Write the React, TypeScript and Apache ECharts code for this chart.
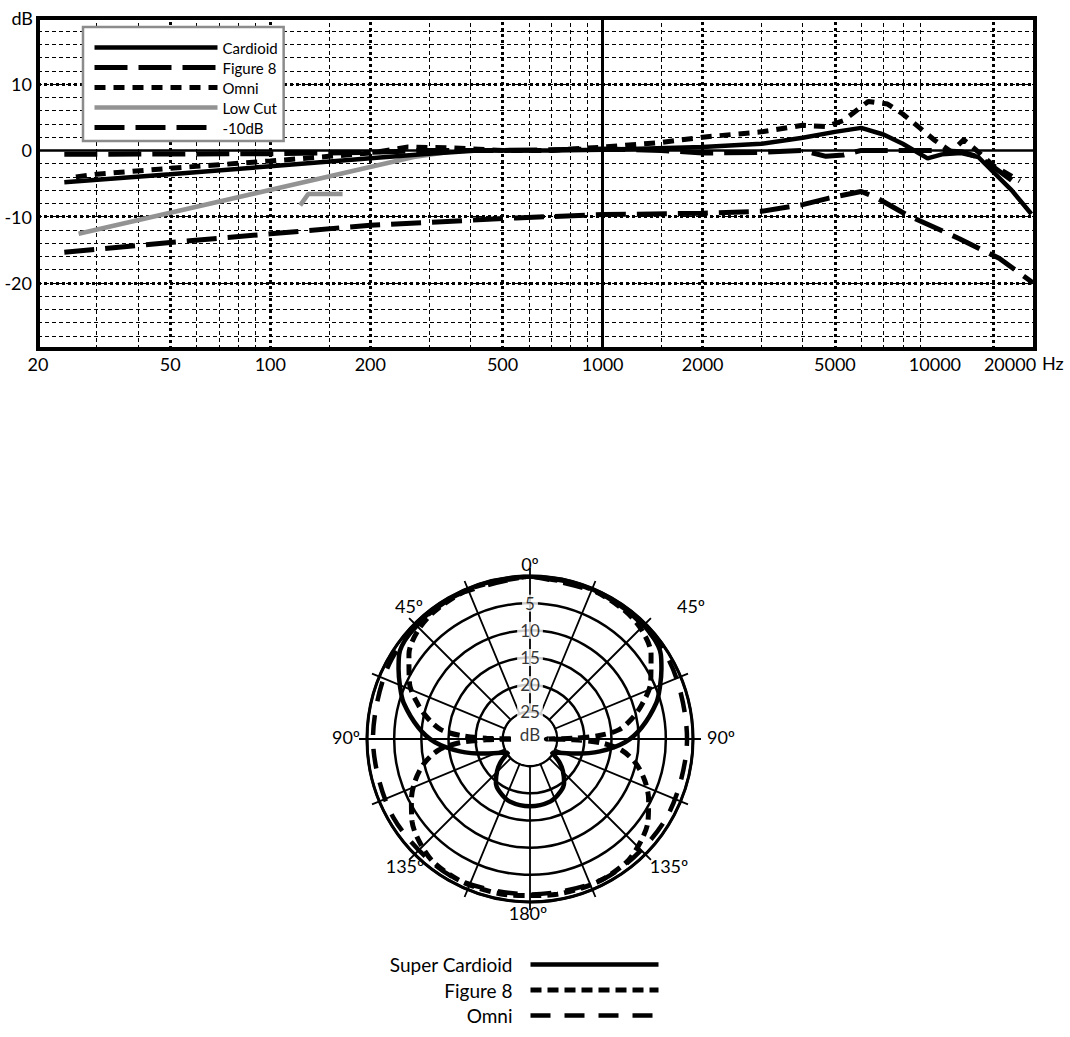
import React, { useEffect, useRef } from 'react';
import * as echarts from 'echarts';

// ---------- frequency response (Hz, dB) ----------
const FREQ_TICKS = [20, 50, 100, 200, 500, 1000, 2000, 5000, 10000, 20000];
const DB_TICKS = [-20, -10, 0, 10];
const GRID_THIN_F = [30, 40, 60, 70, 80, 90, 150, 300, 400, 600, 700, 800, 900, 1500, 3000, 4000, 6000, 7000, 8000, 9000];
const GRID_THICK_F = [50, 100, 200, 500, 2000, 5000, 15000];
const GRID_SOLID_F = [1000];
const GRID_THICK_DB = [10, -10, -20];
const GRID_SOLID_DB = [0];

const CARDIOID_F = [24, 50, 100, 200, 300, 420, 700, 1000, 2000, 3000, 4000, 5000, 6000, 7000, 8000, 9500, 10500, 12000, 13500, 14800, 17000, 19500];
const CARDIOID_DB = [-4.8, -3.6, -2.4, -1.2, -0.5, 0, 0, 0.1, 0.5, 1.0, 1.9, 2.8, 3.4, 2.4, 1.0, -1.2, -0.6, -0.4, -1.0, -3.0, -6.0, -9.6];

const FIG8_F = [24, 100, 200, 300, 500, 1000, 1500, 2000, 3000, 4000, 4700, 5300, 6000, 8000, 10000, 12000, 13500, 15000, 17000];
const FIG8_DB = [-0.6, -0.5, -0.3, 0, 0, 0.2, 0, -0.4, -0.3, 0, -0.9, -0.7, 0, 0, 0, -0.2, -1.0, -2.5, -4.5];

const OMNI_F = [26, 30, 50, 100, 150, 200, 260, 350, 500, 700, 1000, 1500, 2000, 3000, 4000, 4700, 5300, 6300, 7200, 8000, 9000, 10000, 11200, 12200, 13200, 15000, 18000];
const OMNI_DB = [-4.0, -3.6, -2.7, -1.6, -0.9, -0.4, 0.5, 0.4, 0, 0, 0.5, 1.2, 2.0, 2.8, 3.8, 3.6, 4.5, 7.4, 7.0, 5.5, 3.4, 1.5, -0.2, 1.6, 0.2, -2.3, -4.6];

const LOWCUT_F = [26.5, 270, 360, 430, NaN, 123, 130, 165];
const LOWCUT_DB = [-12.6, -1.0, -0.1, 0, NaN, -8.3, -6.6, -6.6];

const M10_F = [24, 50, 100, 200, 550, 1000, 2000, 3000, 4000, 4800, 6000, 6700, 8200, 11800, 15600, 19700];
const M10_DB = [-15.4, -13.9, -12.6, -11.3, -10.2, -9.7, -9.5, -9.2, -8.2, -7.2, -6.2, -7.2, -9.7, -13.3, -16.3, -20];

// ---------- polar pattern (angle deg 0..180, attenuation dB), mirrored ----------
const SUPER_ANGLE = [0, 20, 40, 50, 57, 62, 68, 74, 84, 92, 100, 108, 116, 122, 128, 134, 142, 150, 162, 180];
const SUPER_DB = [0, 0.1, 0.3, 0.6, 1.3, 2.6, 4.2, 5.8, 9.3, 12.5, 16.9, 21.3, 24.2, 25.2, 23.2, 21.6, 19.8, 18.8, 17.9, 17.6];

const FIG8P_ANGLE = [0, 20, 35, 45, 55, 65, 73, 79, 84, 87, 89, 90, 91, 93, 97, 103, 110, 117, 125, 133, 142, 155, 170, 180];
const FIG8P_DB = [0, 0.2, 0.6, 1.2, 2.8, 5.5, 8.5, 11, 13.5, 17, 22, 27, 22, 17, 13, 10, 7.5, 5.5, 3.5, 2.2, 1.2, 0.9, 1.0, 1.2];

const OMNIP_ANGLE = [0, 30, 60, 90, 120, 150, 180];
const OMNIP_DB = [0, 0.2, 0.6, 1.1, 1.0, 0.9, 1.4];

const RING_VALUES = [5, 10, 15, 20, 25];

// layout of the angle captions (text, x, y)
const ANGLE_CAPTIONS: [string, number, number][] = [
  ['0º', 530, 564],
  ['45º', 409, 606],
  ['45º', 691, 606],
  ['90º', 346, 737],
  ['90º', 721, 737],
  ['135º', 405, 866],
  ['135º', 669, 866],
  ['180º', 528, 913],
];

const FONT = 'Lato';

function zip(xs: number[], ys: number[]) {
  return xs.map((x, i) => (isNaN(x) ? ['-', '-'] : [x, ys[i]]));
}

function polarPath(angles: number[], dbs: number[]) {
  const pts: number[][] = angles.map((a, i) => [dbs[i], a]);
  for (let i = angles.length - 2; i >= 0; i--) pts.push([dbs[i], 360 - angles[i]]);
  return pts;
}

export default function App() {
  const ref = useRef<HTMLDivElement>(null);
  useEffect(() => {
    if (!ref.current) return;
    const chart = echarts.init(ref.current, undefined, { renderer: 'svg' });

    const thin = { color: '#000', width: 1, type: [4, 3] };
    const thick = { color: '#000', width: 3, type: [3, 3] };
    const solid = { color: '#000', width: 3, type: 'solid' };

    const gridMarks = [
      ...GRID_THIN_F.map((f) => ({ xAxis: f, lineStyle: thin })),
      ...GRID_THICK_F.map((f) => ({ xAxis: f, lineStyle: thick })),
      ...GRID_SOLID_F.map((f) => ({ xAxis: f, lineStyle: solid })),
      ...GRID_THICK_DB.map((d) => ({ yAxis: d, lineStyle: thick })),
      ...GRID_SOLID_DB.map((d) => ({ yAxis: d, lineStyle: { color: '#000', width: 2.5, type: 'solid' } })),
    ];

    const option: any = {
      animation: false,
      backgroundColor: '#fff',
      textStyle: { fontFamily: FONT, color: '#000' },
      grid: {
        left: 38, top: 18, width: 997, height: 331,
        show: true, borderColor: '#000', borderWidth: 4, backgroundColor: 'transparent',
      },
      xAxis: {
        type: 'log', logBase: 10, min: 20, max: 20000,
        name: 'Hz', nameLocation: 'end', nameGap: 7,
        nameTextStyle: { fontSize: 18, color: '#000', fontFamily: FONT, verticalAlign: 'top', padding: [5, 0, 0, 0] },
        axisLine: { show: false, onZero: false }, axisTick: { show: false }, splitLine: { show: false },
        axisLabel: {
          customValues: FREQ_TICKS, fontSize: 18, color: '#000', fontFamily: FONT, margin: 6,
          formatter: (v: number) => (Math.round(v) >= 19999 ? '{r|20000}' : String(Math.round(v))),
          rich: { r: { fontSize: 18, fontFamily: FONT, color: '#000', padding: [0, 50, 0, 0] } },
        },
      },
      yAxis: {
        type: 'value', min: -30, max: 20, interval: 2,
        name: 'dB', nameLocation: 'end', nameGap: 0,
        nameTextStyle: { fontSize: 18, color: '#000', fontFamily: FONT, align: 'right', verticalAlign: 'middle', padding: [0, 5, 0, 0] },
        axisLine: { show: false, onZero: false }, axisTick: { show: false },
        axisLabel: { customValues: DB_TICKS, fontSize: 18, color: '#000', fontFamily: FONT, margin: 6 },
        splitLine: { show: true, lineStyle: { color: '#000', width: 1, type: [4, 3] } },
      },
      polar: { center: [530, 739], radius: 163 },
      radiusAxis: {
        type: 'value', min: 0, max: 30, interval: 5, inverse: true,
        axisLine: { show: false }, axisTick: { show: false }, axisLabel: { show: false },
        splitLine: { show: true, lineStyle: { color: '#000', width: 2.5 } },
      },
      angleAxis: {
        type: 'value', min: 0, max: 360, interval: 45, startAngle: 90, clockwise: true,
        axisLine: { show: true, lineStyle: { color: '#000', width: 3 } },
        axisTick: { show: true, inside: false, length: 8, lineStyle: { color: '#000', width: 1.8 } },
        minorTick: { show: true, splitNumber: 2, length: 8, lineStyle: { color: '#000', width: 1.8 } },
        axisLabel: { show: false },
        splitLine: { show: true, lineStyle: { color: '#000', width: 1.8 } },
        minorSplitLine: { show: true, lineStyle: { color: '#000', width: 1.8 } },
      },
      legend: [
        {
          data: ['Cardioid', 'Figure 8', 'Omni', 'Low Cut', '-10dB'],
          orient: 'vertical', left: 83, top: 27,
          itemWidth: 123, itemHeight: 14, itemGap: 5,
          padding: [13, 6, 6, 9],
          backgroundColor: '#fff', borderColor: '#8c8c8c', borderWidth: 2.5, borderRadius: 0,
          textStyle: { fontSize: 15, color: '#000', fontFamily: FONT },
          lineStyle: { width: 'inherit' },
          itemStyle: { opacity: 0 },
          selectedMode: false,
        },
        {
          data: ['Super Cardioid', 'Figure 8 ', 'Omni '],
          orient: 'vertical', align: 'right', right: 409, top: 955,
          itemWidth: 128, itemHeight: 14, itemGap: 6.5,
          padding: 0,
          formatter: (n: string) => `{t|${n.trim()}}`,
          textStyle: {
            fontSize: 19, color: '#000', fontFamily: FONT,
            rich: { t: { fontSize: 19, fontFamily: FONT, color: '#000', padding: [0, 13, 0, 0] } },
          },
          lineStyle: { width: 'inherit' },
          itemStyle: { opacity: 0 },
          selectedMode: false,
        },
      ],
      series: [
        {
          name: 'grid', type: 'line', data: [], silent: true,
          markLine: { silent: true, symbol: 'none', z: 1, label: { show: false }, emphasis: { disabled: true }, data: gridMarks },
        },
        {
          name: 'Low Cut', type: 'line', data: zip(LOWCUT_F, LOWCUT_DB), symbol: 'none', z: 3,
          color: '#939393', lineStyle: { color: '#939393', width: 4.5 },
        },
        {
          name: '-10dB', type: 'line', data: zip(M10_F, M10_DB), symbol: 'none', z: 3,
          color: '#000', lineStyle: { color: '#000', width: 5, type: [30, 11] },
        },
        {
          name: 'Omni', type: 'line', data: zip(OMNI_F, OMNI_DB), symbol: 'none', z: 3,
          color: '#000', lineStyle: { color: '#000', width: 5, type: [11, 8] },
        },
        {
          name: 'Figure 8', type: 'line', data: zip(FIG8_F, FIG8_DB), symbol: 'none', z: 3,
          color: '#000', lineStyle: { color: '#000', width: 5, type: [33, 11] },
        },
        {
          name: 'Cardioid', type: 'line', data: zip(CARDIOID_F, CARDIOID_DB), symbol: 'none', z: 3,
          color: '#000', lineStyle: { color: '#000', width: 4.5 },
        },
        {
          name: 'center', type: 'scatter', coordinateSystem: 'polar', silent: true,
          data: [[30, 0]], symbolSize: 52, itemStyle: { color: '#fff', opacity: 1 }, z: 2,
        },
        {
          name: 'Omni ', type: 'line', coordinateSystem: 'polar', data: polarPath(OMNIP_ANGLE, OMNIP_DB),
          symbol: 'none', smooth: 0.3, z: 3, color: '#000', lineStyle: { color: '#000', width: 4.5, type: [20, 14] },
        },
        {
          name: 'Figure 8 ', type: 'line', coordinateSystem: 'polar', data: polarPath(FIG8P_ANGLE, FIG8P_DB),
          symbol: 'none', smooth: 0.3, z: 3, color: '#000', lineStyle: { color: '#000', width: 5, type: [11, 6] },
        },
        {
          name: 'Super Cardioid', type: 'line', coordinateSystem: 'polar', data: polarPath(SUPER_ANGLE, SUPER_DB),
          symbol: 'none', smooth: 0.3, z: 3, color: '#000', lineStyle: { color: '#000', width: 4.5 },
        },
        {
          name: 'rings', type: 'scatter', coordinateSystem: 'polar', silent: true, z: 4,
          data: [...RING_VALUES.map((v) => ({ value: [v, 0], name: String(v) })), { value: [29.2, 0], name: 'dB' }],
          symbolSize: 1, itemStyle: { color: 'rgba(0,0,0,0)' },
          label: {
            show: true, position: 'inside', formatter: (p: any) => p.name,
            fontSize: 17, fontFamily: FONT, color: '#000', backgroundColor: '#fff', padding: [0, 3],
          },
        },
      ],
      graphic: ANGLE_CAPTIONS.map(([t, x, y]) => ({
        type: 'text', x, y, silent: true,
        style: { text: t, fontSize: 18, fontFamily: FONT, fill: '#000', align: 'center', verticalAlign: 'middle' },
      })),
    };

    chart.setOption(option);
    return () => chart.dispose();
  }, []);

  return <div ref={ref} style={{ position: 'absolute', left: 0, top: 0, width: 1070, height: 1037, background: '#fff' }} />;
}
